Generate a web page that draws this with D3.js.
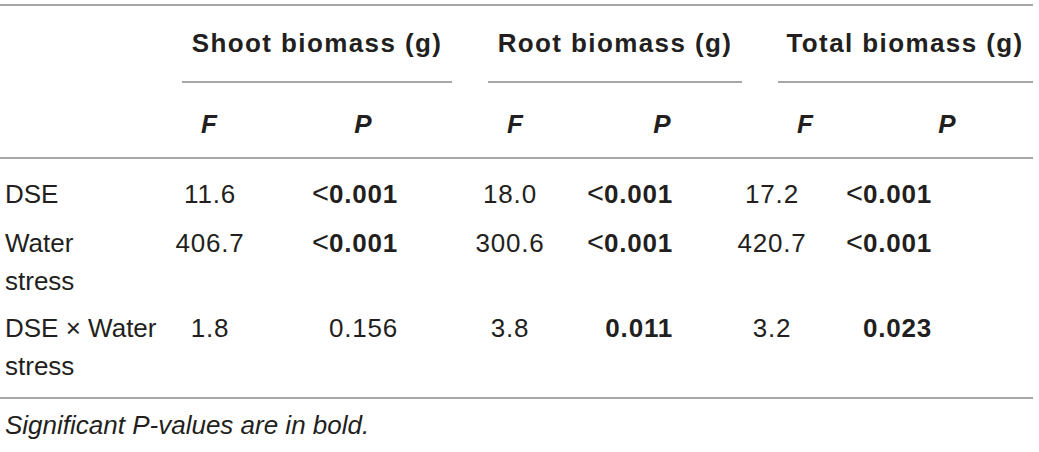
<!DOCTYPE html>
<html>
<head>
<meta charset="utf-8">
<script src="https://cdn.jsdelivr.net/npm/d3@7"></script>
<style>
  html, body { margin: 0; padding: 0; background: #fff; }
  svg text { font-family: "Liberation Sans", Arial, Helvetica, sans-serif; fill: #231f20; }
</style>
</head>
<body>
<div id="table"></div>
<script>
// table data
const groups = ["Shoot biomass (g)", "Root biomass (g)", "Total biomass (g)"];
const stats = ["F", "P"];
const rowLabels = [["DSE"], ["Water", "stress"], ["DSE \u00d7 Water", "stress"]];
const fValues = {
  "Shoot biomass (g)": ["11.6", "406.7", "1.8"],
  "Root biomass (g)": ["18.0", "300.6", "3.8"],
  "Total biomass (g)": ["17.2", "420.7", "3.2"]
};
const pValues = {
  "Shoot biomass (g)": ["<0.001", "<0.001", "0.156"],
  "Root biomass (g)": ["<0.001", "<0.001", "0.011"],
  "Total biomass (g)": ["<0.001", "<0.001", "0.023"]
};
const pSignificant = {
  "Shoot biomass (g)": [true, true, false],
  "Root biomass (g)": [true, true, true],
  "Total biomass (g)": [true, true, true]
};
const footnote = "Significant P-values are in bold.";

const width = 1039, height = 452;
const fontSize = 26;

const svg = d3.select("#table").append("svg")
  .attr("width", width)
  .attr("height", height);

// column layout
const groupCenter = d3.scaleOrdinal().domain(groups).range([317, 615, 905]);
const groupLine = d3.scaleOrdinal().domain(groups).range([[182, 452], [488, 742], [778, 1033]]);
const fHeadX = d3.scaleOrdinal().domain(groups).range([209, 515, 805]);
const pHeadX = d3.scaleOrdinal().domain(groups).range([363, 662, 947]);
const fValX = d3.scaleOrdinal().domain(groups).range([210, 510, 772]);
const pValRight = d3.scaleOrdinal().domain(groups).range([398, 673, 932]);

const rowY = d3.scaleOrdinal().domain(d3.range(rowLabels.length)).range([203, 252, 337]);
const lineGap = 38;

const ruleColor = "#8a8a8a";

function hline(x1, x2, y) {
  svg.append("line")
    .attr("x1", x1).attr("x2", x2)
    .attr("y1", y).attr("y2", y)
    .attr("stroke", ruleColor)
    .attr("stroke-width", 1.5);
}

// rules
hline(0, 1033, 5);
hline(0, 1033, 158);
hline(0, 1033, 398);
groups.forEach(g => hline(groupLine(g)[0], groupLine(g)[1], 82));

// group headers
svg.selectAll(".group-head")
  .data(groups)
  .join("text")
  .attr("class", "group-head")
  .attr("x", d => groupCenter(d))
  .attr("y", 52)
  .attr("text-anchor", "middle")
  .attr("font-size", fontSize)
  .attr("font-weight", "bold")
  .attr("letter-spacing", 1.4)
  .text(d => d);

// F / P sub headers
groups.forEach(g => {
  stats.forEach(s => {
    svg.append("text")
      .attr("x", s === "F" ? fHeadX(g) : pHeadX(g))
      .attr("y", 133)
      .attr("text-anchor", "middle")
      .attr("font-size", fontSize)
      .attr("font-weight", "bold")
      .attr("font-style", "italic")
      .text(s);
  });
});

// row labels
rowLabels.forEach((lines, i) => {
  const t = svg.append("text")
    .attr("x", 5)
    .attr("y", rowY(i))
    .attr("font-size", fontSize);
  lines.forEach((l, j) => {
    t.append("tspan")
      .attr("x", 5)
      .attr("dy", j === 0 ? 0 : lineGap)
      .text(l);
  });
});

// values
groups.forEach(g => {
  fValues[g].forEach((v, i) => {
    svg.append("text")
      .attr("x", fValX(g))
      .attr("y", rowY(i))
      .attr("text-anchor", "middle")
      .attr("font-size", fontSize)
      .attr("letter-spacing", 0.8)
      .text(v);
  });
  pValues[g].forEach((v, i) => {
    const t = svg.append("text")
      .attr("x", pValRight(g))
      .attr("y", rowY(i))
      .attr("text-anchor", "end")
      .attr("font-size", fontSize)
      .attr("letter-spacing", 0.8);
    const sig = pSignificant[g][i];
    if (v.startsWith("<")) {
      t.append("tspan").attr("font-size", 29).attr("letter-spacing", 0).text("<");
      t.append("tspan").attr("font-weight", sig ? "bold" : "normal").text(v.slice(1));
    } else {
      t.append("tspan").attr("font-weight", sig ? "bold" : "normal").text(v);
    }
  });
});

// footnote
svg.append("text")
  .attr("x", 5)
  .attr("y", 434)
  .attr("font-size", fontSize)
  .attr("font-style", "italic")
  .text(footnote);
</script>
</body>
</html>
